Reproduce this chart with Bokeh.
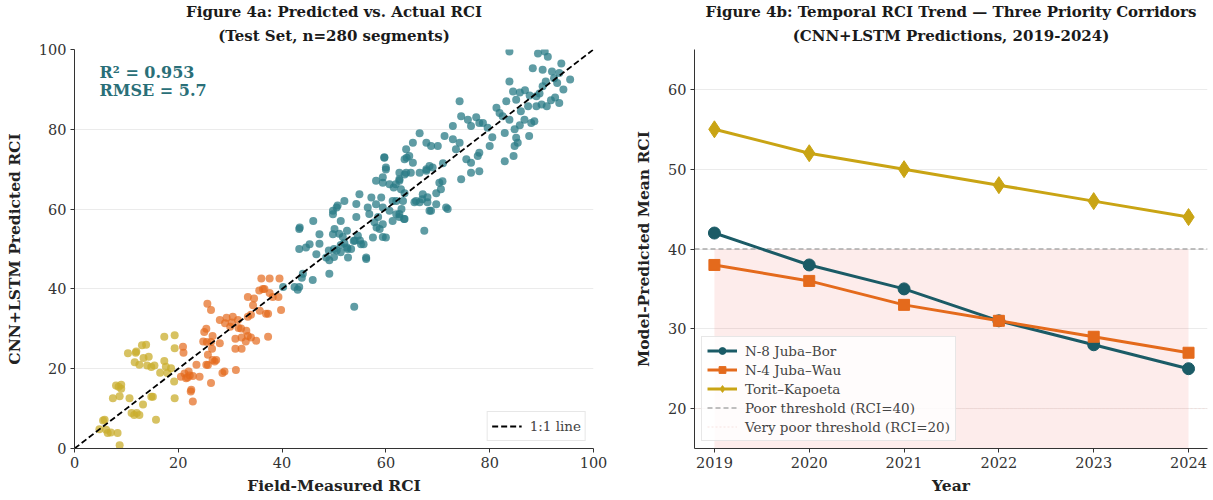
from bokeh.plotting import figure
from bokeh.layouts import row
from bokeh.models import Range1d, FixedTicker, Label, Legend, LegendItem, Title
from bokeh.embed import file_html
from bokeh.resources import INLINE

# ---------------- data: Figure 4a (actual, predicted) by condition class ----------------
good_actual = [53.9, 42.4, 43.3, 43.0, 45.9, 44.0, 43.8, 40.2, 49.1, 49.1, 50.0, 49.0, 50.0, 51.3, 51.3,
               52.6, 52.0, 53.3, 54.0, 55.0, 55.2, 56.2, 47.2, 43.3, 44.6, 43.3, 50.1, 51.0, 51.7, 49.8,
               50.7, 54.3, 56.8, 57.8, 58.5, 58.1, 59.1, 59.4, 58.8, 58.2, 59.4, 60.0, 59.7, 61.9, 62.6,
               63.6, 64.8, 62.0, 63.3, 63.0, 61.3, 62.6, 63.6, 65.8, 67.0, 68.0, 67.4, 68.4, 64.0, 65.2,
               67.8, 69.0, 83.8, 89.3, 90.6, 91.2, 88.3, 90.2, 92.0, 93.4, 83.8, 90.8, 90.2, 92.4, 93.0,
               84.5, 85.8, 86.8, 87.7, 89.0, 89.6, 87.4, 89.0, 90.0, 91.0, 91.8, 93.4, 74.2, 81.3, 81.9,
               83.2, 85.1, 74.5, 75.8, 76.4, 72.9, 77.4, 78.0, 79.6, 78.7, 82.5, 83.8, 84.8, 85.8, 86.7,
               88.0, 88.6, 82.9, 85.1, 87.6, 85.4, 84.8, 84.6, 82.9, 80.0, 78.0, 76.4, 77.7, 78.0, 76.4,
               74.5, 66.5, 67.8, 68.7, 70.0, 71.3, 72.9, 74.2, 73.5, 63.9, 64.5, 63.6, 62.6, 63.9, 66.5,
               67.8, 68.4, 70.3, 70.9, 70.6, 69.7, 68.0, 66.5, 65.5, 68.7, 71.9, 62.9, 63.6, 62.6, 63.5,
               59.7, 60.0, 65.2, 58.1, 59.4, 60.7, 61.5, 62.6, 54.3, 54.9, 57.2, 56.5, 59.4, 60.7, 62.0,
               61.3, 67.1, 71.6, 69.7, 49.8, 50.5, 52.0, 51.3, 43.4, 46.0, 47.2, 49.8, 52.5, 53.8, 54.6,
               52.5, 55.7, 57.5, 59.4, 60.0, 45.3, 46.6, 48.5, 50.5, 52.7, 56.2, 93.8, 95.5, 80.5, 86.0,
               92.6, 94.2, 71.0, 75.5]
good_pred = [35.5, 40.5, 40.5, 39.8, 42.2, 43.8, 42.8, 40.5, 43.8, 47.2, 48.0, 49.6, 50.0, 51.0, 49.2,
             50.0, 51.5, 50.0, 52.1, 52.1, 51.2, 47.5, 51.3, 50.0, 50.4, 55.0, 55.0, 53.8, 53.0, 59.6,
             60.9, 58.0, 58.8, 56.7, 58.0, 61.2, 62.9, 53.0, 55.0, 55.4, 66.6, 69.9, 72.9, 66.2, 67.5,
             68.7, 69.1, 62.0, 62.0, 60.0, 57.0, 58.0, 57.5, 62.0, 62.5, 63.0, 54.6, 59.6, 72.9, 71.6,
             69.6, 70.4, 99.5, 99.0, 99.5, 98.2, 95.3, 94.9, 94.5, 94.1, 92.0, 92.0, 90.8, 92.8, 91.6,
             89.5, 89.2, 89.8, 88.5, 88.3, 89.0, 85.8, 85.8, 86.2, 85.8, 87.3, 86.6, 87.0, 85.4, 84.1,
             87.0, 87.4, 83.3, 82.4, 80.8, 80.8, 83.0, 81.6, 80.4, 81.6, 83.3, 82.4, 80.0, 81.0, 82.4,
             81.6, 82.0, 79.1, 77.9, 78.3, 76.6, 75.8, 73.3, 72.0, 75.8, 74.1, 71.6, 73.3, 69.5, 69.1,
             67.5, 79.0, 76.6, 75.8, 75.8, 78.3, 77.5, 76.6, 75.0, 75.0, 73.3, 72.5, 69.1, 69.1, 69.1,
             70.0, 70.8, 66.6, 67.0, 65.0, 64.0, 61.7, 61.7, 61.7, 59.6, 60.0, 65.0, 64.0, 58.8, 57.5,
             73.0, 70.4, 76.6, 67.1, 68.0, 66.2, 65.4, 67.1, 61.3, 63.7, 62.9, 60.4, 60.4, 59.6, 58.7,
             62.0, 63.7, 60.4, 61.2, 58.7, 60.4, 62.0, 57.0, 55.4, 57.0, 53.7, 53.7, 54.6, 52.0, 53.3,
             50.4, 51.2, 52.9, 56.2, 52.9, 51.2, 48.7, 47.9, 49.6, 47.9, 47.9, 96.5, 92.5, 78.0, 84.5,
             88.0, 90.0, 71.5, 72.5]

fair_actual = [20.5, 21.2, 22.0, 22.8, 22.5, 22.8, 24.1, 26.3, 21.0, 20.9, 25.5, 26.3, 25.0, 25.6, 26.3,
               25.7, 27.3, 25.7, 28.9, 31.1, 28.0, 29.3, 30.5, 31.5, 31.0, 32.2, 33.4, 35.0, 33.0, 31.0,
               32.2, 33.4, 34.6, 35.6, 36.6, 36.0, 37.6, 39.5, 37.3, 37.3, 33.4, 34.0, 38.2, 39.3, 39.8,
               34.4, 35.7, 36.9, 29.0, 30.3, 31.6, 32.1, 33.1, 34.0, 25.4, 26.6, 24.8, 28.0, 26.5, 25.4,
               26.6, 27.0, 28.5, 21.5, 22.2, 21.8, 22.4, 37.6, 36.3, 23.5, 30.0]
fair_pred = [18.0, 18.8, 19.3, 18.2, 14.7, 11.8, 18.0, 16.4, 24.0, 25.5, 26.7, 26.7, 29.2, 36.3, 34.7,
             23.5, 22.2, 20.9, 19.3, 19.7, 32.2, 32.8, 33.0, 32.2, 27.5, 27.8, 28.2, 27.0, 26.8, 25.0,
             25.0, 38.0, 37.6, 39.6, 40.0, 42.6, 42.6, 42.6, 33.8, 28.0, 33.0, 33.5, 38.0, 38.0, 34.7,
             35.9, 34.5, 33.8, 31.4, 31.6, 30.2, 30.1, 29.5, 27.8, 30.0, 28.2, 26.8, 26.4, 25.0, 21.0,
             22.2, 21.8, 18.9, 17.6, 18.3, 17.8, 14.3, 39.0, 40.0, 21.0, 30.5]

poor_actual = [8.5, 9.0, 7.4, 10.6, 5.8, 6.1, 6.4, 8.3, 8.7, 11.0, 12.0, 11.5, 15.7, 13.0, 13.8,
               10.3, 11.9, 13.3, 11.6, 14.0, 14.8, 15.4, 17.3, 19.3, 19.3, 17.3, 18.6, 15.1, 19.3, 13.2,
               5.5, 4.8, 7.0, 8.0, 14.3, 12.5, 17.6, 17.9, 19.2, 14.8, 12.5, 11.8, 9.0, 8.7, 16.5]
poor_pred = [15.5, 15.0, 12.6, 12.6, 7.2, 4.7, 3.9, 3.9, 0.8, 8.9, 8.9, 8.4, 7.2, 25.9, 26.0,
             23.9, 24.3, 22.7, 21.6, 20.8, 20.4, 20.8, 28.0, 28.4, 25.1, 21.9, 20.1, 13.0, 12.6, 11.0,
             7.0, 4.8, 4.0, 15.8, 23.0, 21.0, 20.5, 18.9, 16.8, 13.0, 8.4, 24.0, 16.0, 13.1, 19.0]

identity_line = [0, 100]
fit_stats = ["R\u00b2 = 0.953", "RMSE = 5.7"]

# ---------------- data: Figure 4b ----------------
years = [2019, 2020, 2021, 2022, 2023, 2024]
n8_juba_bor = [42, 38, 35, 31, 28, 25]
n4_juba_wau = [38, 36, 33, 31, 29, 27]
torit_kapoeta = [55, 52, 50, 48, 46, 44]
poor_threshold = 40
very_poor_threshold = 20
year_axis = [2018.79, 2024.2]

FONT = "DejaVu Serif"
TEAL = "#2a7b86"
TEAL_DARK = "#1b5b66"
ORANGE = "#e46a1c"
GOLD = "#c9a414"
GOLD_SC = "#c9ad2e"


def style(p):
    p.outline_line_color = None
    p.xgrid.grid_line_color = None
    p.ygrid.grid_line_color = "#e6e6e6"
    p.ygrid.grid_line_alpha = 0.8
    for ax in (p.xaxis, p.yaxis):
        ax.axis_line_color = "#333333"
        ax.major_tick_line_color = "#333333"
        ax.major_tick_out = 4
        ax.major_tick_in = 0
        ax.minor_tick_line_color = None
        ax.major_label_text_font = FONT
        ax.major_label_text_font_size = "14.5px"
        ax.major_label_text_color = "#333333"
        ax.major_label_standoff = 4
        ax.axis_label_text_font = FONT
        ax.axis_label_text_font_size = "15.5px"
        ax.axis_label_text_font_style = "bold"
        ax.axis_label_text_color = "#222222"


def add_titles(p, line1, line2):
    p.add_layout(Title(text=line2, align="center", text_font=FONT, text_font_size="15px",
                       text_font_style="bold", text_color="#1a1a1a", standoff=9, offset=0), "above")
    p.add_layout(Title(text=line1, align="center", text_font=FONT, text_font_size="15px",
                       text_font_style="bold", text_color="#1a1a1a", standoff=0, offset=0), "above")


# ---------------- left panel ----------------
p1 = figure(width=612, height=498, output_backend="svg", toolbar_location=None,
            x_range=Range1d(0, 100), y_range=Range1d(0, 100), title=None,
            min_border_left=74, min_border_right=19, min_border_top=47, min_border_bottom=50)
style(p1)
add_titles(p1, "Figure 4a: Predicted vs. Actual RCI", "(Test Set, n=280 segments)")
p1.xaxis.ticker = FixedTicker(ticks=[0, 20, 40, 60, 80, 100])
p1.yaxis.ticker = FixedTicker(ticks=[0, 20, 40, 60, 80, 100])
p1.xaxis.axis_label = "Field-Measured RCI"
p1.yaxis.axis_label = "CNN+LSTM Predicted RCI"
p1.yaxis.axis_label_standoff = 12
p1.xaxis.axis_label_standoff = 5

p1.scatter(poor_actual, poor_pred, size=8, color=GOLD_SC, alpha=0.75, line_color=None)
p1.scatter(fair_actual, fair_pred, size=8, color=ORANGE, alpha=0.7, line_color=None)
p1.scatter(good_actual, good_pred, size=8, color=TEAL, alpha=0.75, line_color=None)
diag = p1.line(identity_line, identity_line, line_color="black", line_width=1.8, line_dash="6 3")

lab_kw = dict(x_units="screen", y_units="screen", text_font=FONT, text_font_size="16px",
              text_font_style="bold", text_color="#2a6f78")
p1.add_layout(Label(x=25, y=367, text=fit_stats[0], **lab_kw))
p1.add_layout(Label(x=25, y=349, text=fit_stats[1], **lab_kw))

leg1 = Legend(items=[LegendItem(label="1:1 line", renderers=[diag])], location="bottom_right",
              label_text_font=FONT, label_text_font_size="13.5px", border_line_color="#d0d0d0",
              background_fill_alpha=0.85, glyph_width=30, padding=4, margin=7, spacing=0,
              label_standoff=8)
p1.add_layout(leg1)

# ---------------- right panel ----------------
p2 = figure(width=597, height=498, output_backend="svg", toolbar_location=None,
            x_range=Range1d(year_axis[0], year_axis[1]), y_range=Range1d(15, 65), title=None,
            min_border_left=82, min_border_right=2, min_border_top=47, min_border_bottom=50)
style(p2)
add_titles(p2, "Figure 4b: Temporal RCI Trend \u2014 Three Priority Corridors",
           "(CNN+LSTM Predictions, 2019-2024)")
p2.xaxis.ticker = FixedTicker(ticks=years)
p2.yaxis.ticker = FixedTicker(ticks=[20, 30, 40, 50, 60])
p2.xaxis.axis_label = "Year"
p2.yaxis.axis_label = "Model-Predicted Mean RCI"
p2.yaxis.axis_label_standoff = 12
p2.xaxis.axis_label_standoff = 5

p2.varea(x=years, y1=0, y2=poor_threshold, fill_color="#e8463a", fill_alpha=0.1)
poor_leg = p2.line(year_axis, [poor_threshold] * 2, line_color="#aaaaaa", line_dash="5 3",
                   line_width=1.3)
vpoor_leg = p2.line(year_axis, [very_poor_threshold] * 2, line_color="#f2d4cf", line_dash="2 2",
                    line_width=1, line_alpha=0.6)

l_n8 = p2.line(years, n8_juba_bor, line_color=TEAL_DARK, line_width=3)
m_n8 = p2.scatter(years, n8_juba_bor, marker="circle", size=12, color=TEAL_DARK)
l_n4 = p2.line(years, n4_juba_wau, line_color=ORANGE, line_width=3)
m_n4 = p2.scatter(years, n4_juba_wau, marker="square", size=11, color=ORANGE)
l_tk = p2.line(years, torit_kapoeta, line_color=GOLD, line_width=3)
m_tk = p2.scatter(years, torit_kapoeta, marker="diamond", size=17, color=GOLD)

leg2 = Legend(items=[
    LegendItem(label="N-8 Juba\u2013Bor", renderers=[l_n8, m_n8]),
    LegendItem(label="N-4 Juba\u2013Wau", renderers=[l_n4, m_n4]),
    LegendItem(label="Torit\u2013Kapoeta", renderers=[l_tk, m_tk]),
    LegendItem(label="Poor threshold (RCI=40)", renderers=[poor_leg]),
    LegendItem(label="Very poor threshold (RCI=20)", renderers=[vpoor_leg]),
], location="bottom_left", label_text_font=FONT, label_text_font_size="13.5px",
    border_line_color="#d0d0d0", background_fill_alpha=0.85, glyph_width=30, glyph_height=17,
    padding=5, margin=7, spacing=2, label_standoff=8, label_height=17)
p2.add_layout(leg2)

layout = row(p1, p2)
open("out.html", "w").write(file_html(layout, INLINE))
